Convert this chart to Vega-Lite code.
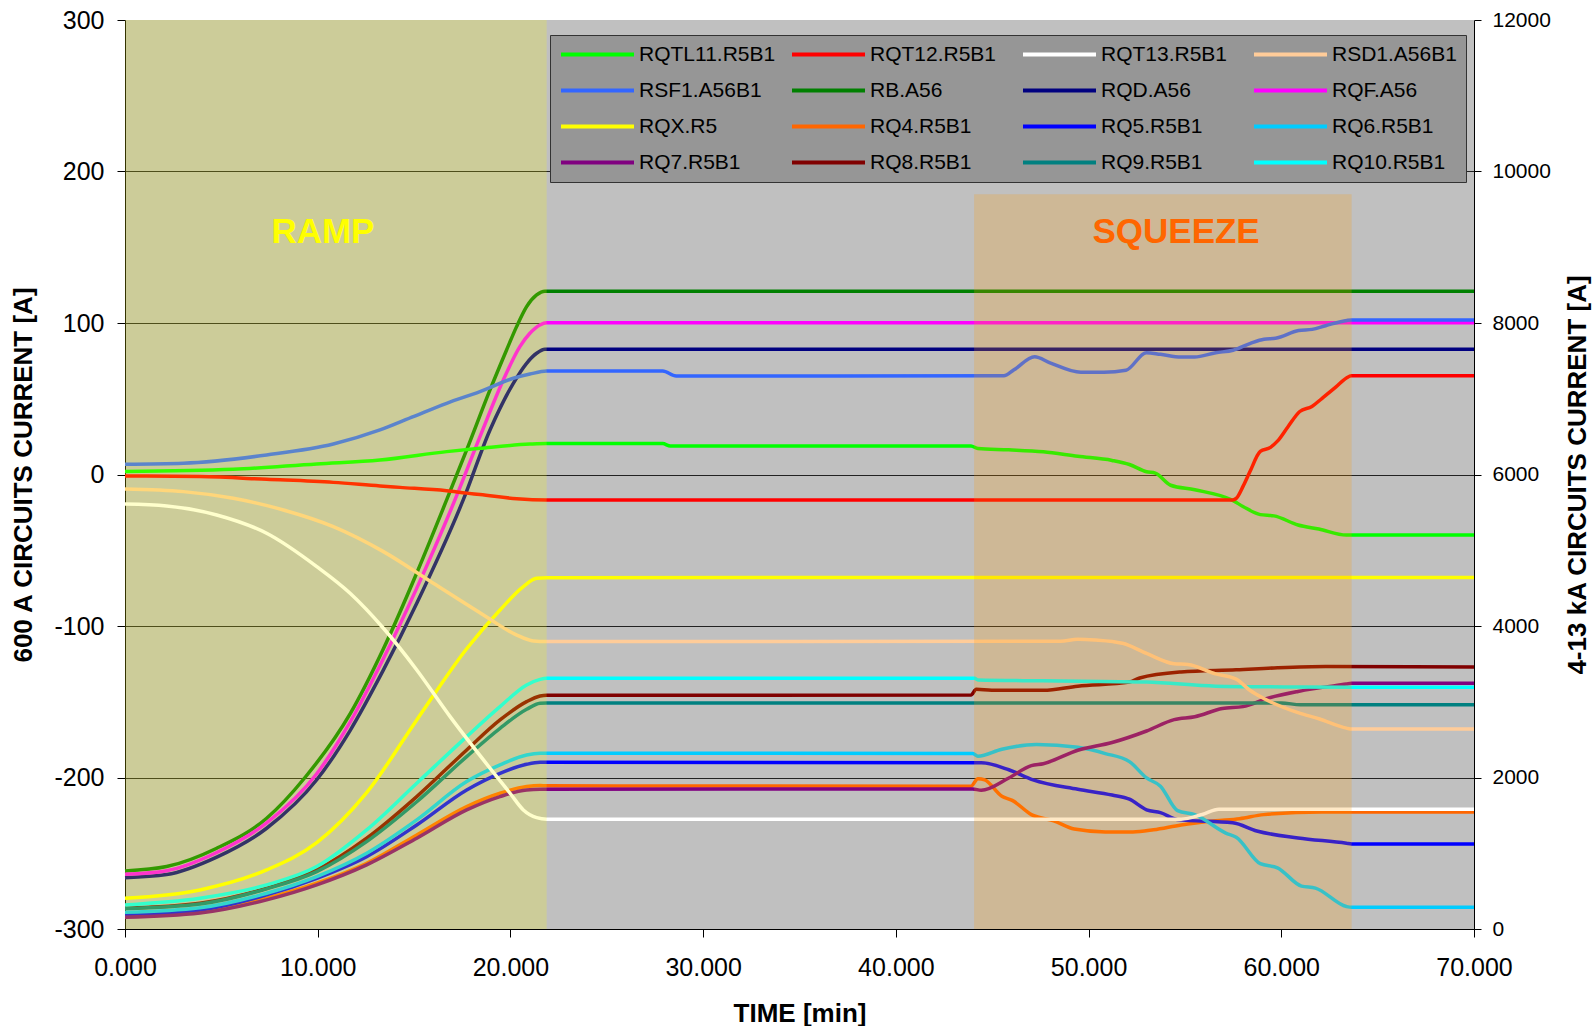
{
  "$schema": "https://vega.github.io/schema/vega-lite/v6.json",
  "width": 1349,
  "height": 909,
  "autosize": {"type": "none"},
  "padding": {"left": 125, "top": 20, "right": 121, "bottom": 97},
  "background": "white",
  "config": {
    "font": "Liberation Sans",
    "view": {"fill": "#C0C0C0", "stroke": null},
    "axis": {"labelFont": "Liberation Sans", "titleFont": "Liberation Sans", "labelColor": "#000", "titleColor": "#000", "tickColor": "#000", "domainColor": "#000", "domainWidth": 1, "tickWidth": 1}
  },
  "datasets": {
    "ka": [
      {"circuit":"RB.A56","time":0,"current":766},{"circuit":"RB.A56","time":2.16,"current":824},{"circuit":"RB.A56","time":4.76,"current":1066},{"circuit":"RB.A56","time":7.35,"current":1462},{"circuit":"RB.A56","time":9.34,"current":2000},{"circuit":"RB.A56","time":11.68,"current":2840},{"circuit":"RB.A56","time":13.41,"current":3700},{"circuit":"RB.A56","time":15.14,"current":4700},{"circuit":"RB.A56","time":16.69,"current":5664},{"circuit":"RB.A56","time":17.73,"current":6324},{"circuit":"RB.A56","time":18.94,"current":7116},{"circuit":"RB.A56","time":19.8,"current":7644},{"circuit":"RB.A56","time":20.32,"current":7952},{"circuit":"RB.A56","time":20.84,"current":8216},{"circuit":"RB.A56","time":21.36,"current":8370},{"circuit":"RB.A56","time":21.79,"current":8420},{"circuit":"RB.A56","time":70,"current":8420},
      {"circuit":"RQD.A56","time":0,"current":678},{"circuit":"RQD.A56","time":2.16,"current":720},{"circuit":"RQD.A56","time":4.76,"current":950},{"circuit":"RQD.A56","time":7.35,"current":1330},{"circuit":"RQD.A56","time":9.95,"current":1970},{"circuit":"RQD.A56","time":11.68,"current":2620},{"circuit":"RQD.A56","time":13.41,"current":3420},{"circuit":"RQD.A56","time":15.14,"current":4300},{"circuit":"RQD.A56","time":17.55,"current":5664},{"circuit":"RQD.A56","time":18.94,"current":6588},{"circuit":"RQD.A56","time":20.15,"current":7204},{"circuit":"RQD.A56","time":20.84,"current":7468},{"circuit":"RQD.A56","time":21.36,"current":7600},{"circuit":"RQD.A56","time":21.79,"current":7652},{"circuit":"RQD.A56","time":70,"current":7652},
      {"circuit":"RQF.A56","time":0,"current":722},{"circuit":"RQF.A56","time":2.16,"current":770},{"circuit":"RQF.A56","time":4.76,"current":1010},{"circuit":"RQF.A56","time":7.35,"current":1400},{"circuit":"RQF.A56","time":9.95,"current":2050},{"circuit":"RQF.A56","time":11.68,"current":2730},{"circuit":"RQF.A56","time":13.41,"current":3570},{"circuit":"RQF.A56","time":15.14,"current":4500},{"circuit":"RQF.A56","time":17.12,"current":5664},{"circuit":"RQF.A56","time":18.42,"current":6500},{"circuit":"RQF.A56","time":19.63,"current":7248},{"circuit":"RQF.A56","time":20.49,"current":7688},{"circuit":"RQF.A56","time":21.01,"current":7864},{"circuit":"RQF.A56","time":21.53,"current":7974},{"circuit":"RQF.A56","time":21.88,"current":8004},{"circuit":"RQF.A56","time":70,"current":8004},
      {"circuit":"RQX.R5","time":0,"current":406},{"circuit":"RQX.R5","time":3.89,"current":516},{"circuit":"RQX.R5","time":7.35,"current":780},{"circuit":"RQX.R5","time":9.95,"current":1140},{"circuit":"RQX.R5","time":12.54,"current":1800},{"circuit":"RQX.R5","time":15.14,"current":2760},{"circuit":"RQX.R5","time":17.73,"current":3700},{"circuit":"RQX.R5","time":19.46,"current":4212},{"circuit":"RQX.R5","time":20.67,"current":4520},{"circuit":"RQX.R5","time":21.36,"current":4630},{"circuit":"RQX.R5","time":21.88,"current":4638},{"circuit":"RQX.R5","time":70,"current":4640},
      {"circuit":"RQ4.R5B1","time":0,"current":164},{"circuit":"RQ4.R5B1","time":3.89,"current":224},{"circuit":"RQ4.R5B1","time":7.35,"current":406},{"circuit":"RQ4.R5B1","time":9.95,"current":604},{"circuit":"RQ4.R5B1","time":12.54,"current":868},{"circuit":"RQ4.R5B1","time":15.14,"current":1242},{"circuit":"RQ4.R5B1","time":17.73,"current":1616},{"circuit":"RQ4.R5B1","time":19.46,"current":1792},{"circuit":"RQ4.R5B1","time":20.84,"current":1880},{"circuit":"RQ4.R5B1","time":21.54,"current":1894},{"circuit":"RQ4.R5B1","time":21.88,"current":1890},{"circuit":"RQ4.R5B1","time":43.9,"current":1886},{"circuit":"RQ4.R5B1","time":44.26,"current":1984},{"circuit":"RQ4.R5B1","time":44.61,"current":1968},{"circuit":"RQ4.R5B1","time":45.5,"current":1752},{"circuit":"RQ4.R5B1","time":46.04,"current":1698},{"circuit":"RQ4.R5B1","time":47.03,"current":1510},{"circuit":"RQ4.R5B1","time":48.19,"current":1428},{"circuit":"RQ4.R5B1","time":49.26,"current":1320},{"circuit":"RQ4.R5B1","time":50.87,"current":1282},{"circuit":"RQ4.R5B1","time":52.3,"current":1282},{"circuit":"RQ4.R5B1","time":53.37,"current":1310},{"circuit":"RQ4.R5B1","time":54.8,"current":1374},{"circuit":"RQ4.R5B1","time":56.59,"current":1428},{"circuit":"RQ4.R5B1","time":57.84,"current":1456},{"circuit":"RQ4.R5B1","time":59.09,"current":1510},{"circuit":"RQ4.R5B1","time":62.12,"current":1546},{"circuit":"RQ4.R5B1","time":70,"current":1546},
      {"circuit":"RQ5.R5B1","time":0,"current":186},{"circuit":"RQ5.R5B1","time":3.89,"current":250},{"circuit":"RQ5.R5B1","time":7.35,"current":450},{"circuit":"RQ5.R5B1","time":9.95,"current":670},{"circuit":"RQ5.R5B1","time":12.54,"current":956},{"circuit":"RQ5.R5B1","time":15.14,"current":1374},{"circuit":"RQ5.R5B1","time":17.73,"current":1836},{"circuit":"RQ5.R5B1","time":19.46,"current":2056},{"circuit":"RQ5.R5B1","time":20.84,"current":2174},{"circuit":"RQ5.R5B1","time":21.54,"current":2200},{"circuit":"RQ5.R5B1","time":44.43,"current":2194},{"circuit":"RQ5.R5B1","time":45.86,"current":2102},{"circuit":"RQ5.R5B1","time":47.12,"current":1968},{"circuit":"RQ5.R5B1","time":49.44,"current":1844},{"circuit":"RQ5.R5B1","time":51.22,"current":1768},{"circuit":"RQ5.R5B1","time":52.12,"current":1714},{"circuit":"RQ5.R5B1","time":53.01,"current":1574},{"circuit":"RQ5.R5B1","time":53.73,"current":1536},{"circuit":"RQ5.R5B1","time":54.62,"current":1444},{"circuit":"RQ5.R5B1","time":57.48,"current":1402},{"circuit":"RQ5.R5B1","time":58.73,"current":1294},{"circuit":"RQ5.R5B1","time":60.87,"current":1202},{"circuit":"RQ5.R5B1","time":63.38,"current":1132},{"circuit":"RQ5.R5B1","time":63.65,"current":1122},{"circuit":"RQ5.R5B1","time":70,"current":1122},
      {"circuit":"RQ6.R5B1","time":0,"current":220},{"circuit":"RQ6.R5B1","time":3.89,"current":280},{"circuit":"RQ6.R5B1","time":7.35,"current":472},{"circuit":"RQ6.R5B1","time":9.95,"current":692},{"circuit":"RQ6.R5B1","time":12.54,"current":1000},{"circuit":"RQ6.R5B1","time":15.14,"current":1440},{"circuit":"RQ6.R5B1","time":17.73,"current":1946},{"circuit":"RQ6.R5B1","time":19.46,"current":2166},{"circuit":"RQ6.R5B1","time":20.84,"current":2298},{"circuit":"RQ6.R5B1","time":21.54,"current":2320},{"circuit":"RQ6.R5B1","time":43.99,"current":2316},{"circuit":"RQ6.R5B1","time":44.26,"current":2280},{"circuit":"RQ6.R5B1","time":45.5,"current":2372},{"circuit":"RQ6.R5B1","time":47.29,"current":2436},{"circuit":"RQ6.R5B1","time":49.44,"current":2398},{"circuit":"RQ6.R5B1","time":50.87,"current":2316},{"circuit":"RQ6.R5B1","time":52.12,"current":2210},{"circuit":"RQ6.R5B1","time":53.01,"current":1994},{"circuit":"RQ6.R5B1","time":53.73,"current":1886},{"circuit":"RQ6.R5B1","time":54.62,"current":1562},{"circuit":"RQ6.R5B1","time":55.51,"current":1510},{"circuit":"RQ6.R5B1","time":57.12,"current":1266},{"circuit":"RQ6.R5B1","time":57.66,"current":1212},{"circuit":"RQ6.R5B1","time":58.91,"current":862},{"circuit":"RQ6.R5B1","time":59.8,"current":808},{"circuit":"RQ6.R5B1","time":61.05,"current":566},{"circuit":"RQ6.R5B1","time":61.77,"current":540},{"circuit":"RQ6.R5B1","time":63.38,"current":296},{"circuit":"RQ6.R5B1","time":63.65,"current":286},{"circuit":"RQ6.R5B1","time":70,"current":286},
      {"circuit":"RQ7.R5B1","time":0,"current":154},{"circuit":"RQ7.R5B1","time":3.89,"current":210},{"circuit":"RQ7.R5B1","time":7.35,"current":384},{"circuit":"RQ7.R5B1","time":9.95,"current":582},{"circuit":"RQ7.R5B1","time":12.54,"current":846},{"circuit":"RQ7.R5B1","time":15.14,"current":1198},{"circuit":"RQ7.R5B1","time":17.73,"current":1572},{"circuit":"RQ7.R5B1","time":19.46,"current":1748},{"circuit":"RQ7.R5B1","time":20.84,"current":1836},{"circuit":"RQ7.R5B1","time":21.54,"current":1844},{"circuit":"RQ7.R5B1","time":43.99,"current":1848},{"circuit":"RQ7.R5B1","time":44.43,"current":1832},{"circuit":"RQ7.R5B1","time":45.86,"current":1994},{"circuit":"RQ7.R5B1","time":47.03,"current":2156},{"circuit":"RQ7.R5B1","time":47.65,"current":2182},{"circuit":"RQ7.R5B1","time":49.44,"current":2360},{"circuit":"RQ7.R5B1","time":51.22,"current":2462},{"circuit":"RQ7.R5B1","time":53.01,"current":2614},{"circuit":"RQ7.R5B1","time":54.44,"current":2764},{"circuit":"RQ7.R5B1","time":55.51,"current":2802},{"circuit":"RQ7.R5B1","time":56.94,"current":2910},{"circuit":"RQ7.R5B1","time":58.01,"current":2936},{"circuit":"RQ7.R5B1","time":59.27,"current":3044},{"circuit":"RQ7.R5B1","time":60.87,"current":3136},{"circuit":"RQ7.R5B1","time":63.38,"current":3234},{"circuit":"RQ7.R5B1","time":63.65,"current":3244},{"circuit":"RQ7.R5B1","time":70,"current":3244},
      {"circuit":"RQ8.R5B1","time":0,"current":274},{"circuit":"RQ8.R5B1","time":3.89,"current":340},{"circuit":"RQ8.R5B1","time":7.35,"current":538},{"circuit":"RQ8.R5B1","time":9.95,"current":780},{"circuit":"RQ8.R5B1","time":12.54,"current":1198},{"circuit":"RQ8.R5B1","time":15.14,"current":1748},{"circuit":"RQ8.R5B1","time":17.73,"current":2364},{"circuit":"RQ8.R5B1","time":19.46,"current":2760},{"circuit":"RQ8.R5B1","time":20.84,"current":3002},{"circuit":"RQ8.R5B1","time":21.54,"current":3076},{"circuit":"RQ8.R5B1","time":21.88,"current":3086},{"circuit":"RQ8.R5B1","time":43.9,"current":3088},{"circuit":"RQ8.R5B1","time":44.17,"current":3164},{"circuit":"RQ8.R5B1","time":44.97,"current":3152},{"circuit":"RQ8.R5B1","time":47.65,"current":3152},{"circuit":"RQ8.R5B1","time":49.44,"current":3206},{"circuit":"RQ8.R5B1","time":52.12,"current":3260},{"circuit":"RQ8.R5B1","time":52.65,"current":3314},{"circuit":"RQ8.R5B1","time":54.8,"current":3394},{"circuit":"RQ8.R5B1","time":57.66,"current":3422},{"circuit":"RQ8.R5B1","time":59.8,"current":3448},{"circuit":"RQ8.R5B1","time":62.3,"current":3464},{"circuit":"RQ8.R5B1","time":70,"current":3460},
      {"circuit":"RQ9.R5B1","time":0,"current":270},{"circuit":"RQ9.R5B1","time":3.89,"current":330},{"circuit":"RQ9.R5B1","time":7.35,"current":530},{"circuit":"RQ9.R5B1","time":9.95,"current":758},{"circuit":"RQ9.R5B1","time":12.54,"current":1154},{"circuit":"RQ9.R5B1","time":15.14,"current":1680},{"circuit":"RQ9.R5B1","time":17.73,"current":2276},{"circuit":"RQ9.R5B1","time":19.46,"current":2650},{"circuit":"RQ9.R5B1","time":20.84,"current":2900},{"circuit":"RQ9.R5B1","time":21.54,"current":2980},{"circuit":"RQ9.R5B1","time":21.88,"current":2984},{"circuit":"RQ9.R5B1","time":60,"current":2984},{"circuit":"RQ9.R5B1","time":61,"current":2960},{"circuit":"RQ9.R5B1","time":70,"current":2960},
      {"circuit":"RQ10.R5B1","time":0,"current":318},{"circuit":"RQ10.R5B1","time":3.89,"current":406},{"circuit":"RQ10.R5B1","time":7.35,"current":582},{"circuit":"RQ10.R5B1","time":9.95,"current":824},{"circuit":"RQ10.R5B1","time":12.54,"current":1308},{"circuit":"RQ10.R5B1","time":15.14,"current":1924},{"circuit":"RQ10.R5B1","time":17.73,"current":2540},{"circuit":"RQ10.R5B1","time":19.46,"current":2936},{"circuit":"RQ10.R5B1","time":20.84,"current":3222},{"circuit":"RQ10.R5B1","time":21.54,"current":3296},{"circuit":"RQ10.R5B1","time":21.88,"current":3310},{"circuit":"RQ10.R5B1","time":44.08,"current":3310},{"circuit":"RQ10.R5B1","time":44.26,"current":3288},{"circuit":"RQ10.R5B1","time":47.65,"current":3276},{"circuit":"RQ10.R5B1","time":53.01,"current":3260},{"circuit":"RQ10.R5B1","time":56.59,"current":3206},{"circuit":"RQ10.R5B1","time":60.16,"current":3196},{"circuit":"RQ10.R5B1","time":63.65,"current":3190},{"circuit":"RQ10.R5B1","time":70,"current":3190}
    ],
    "a600": [
      {"circuit":"RQTL11.R5B1","time":0,"current":1.9},{"circuit":"RQTL11.R5B1","time":5.62,"current":3.4},{"circuit":"RQTL11.R5B1","time":9.95,"current":7.0},{"circuit":"RQTL11.R5B1","time":13.23,"current":9.5},{"circuit":"RQTL11.R5B1","time":16.69,"current":15.1},{"circuit":"RQTL11.R5B1","time":18.42,"current":17.3},{"circuit":"RQTL11.R5B1","time":21.01,"current":20.1},{"circuit":"RQTL11.R5B1","time":21.88,"current":20.5},{"circuit":"RQTL11.R5B1","time":27.9,"current":20.4},{"circuit":"RQTL11.R5B1","time":28.3,"current":18.8},{"circuit":"RQTL11.R5B1","time":43.9,"current":18.8},{"circuit":"RQTL11.R5B1","time":44.26,"current":17.1},{"circuit":"RQTL11.R5B1","time":45.86,"current":16.3},{"circuit":"RQTL11.R5B1","time":47.65,"current":15.0},{"circuit":"RQTL11.R5B1","time":49.44,"current":12.0},{"circuit":"RQTL11.R5B1","time":51.22,"current":9.3},{"circuit":"RQTL11.R5B1","time":52.12,"current":6.6},{"circuit":"RQTL11.R5B1","time":53.01,"current":1.8},{"circuit":"RQTL11.R5B1","time":53.46,"current":0.9},{"circuit":"RQTL11.R5B1","time":54.26,"current":-7.1},{"circuit":"RQTL11.R5B1","time":55.51,"current":-10.1},{"circuit":"RQTL11.R5B1","time":57.48,"current":-17.1},{"circuit":"RQTL11.R5B1","time":58.01,"current":-21.1},{"circuit":"RQTL11.R5B1","time":58.91,"current":-26.5},{"circuit":"RQTL11.R5B1","time":59.62,"current":-27.3},{"circuit":"RQTL11.R5B1","time":60.87,"current":-33.3},{"circuit":"RQTL11.R5B1","time":61.95,"current":-36.0},{"circuit":"RQTL11.R5B1","time":63.38,"current":-40.0},{"circuit":"RQTL11.R5B1","time":70,"current":-40.0},
      {"circuit":"RQT12.R5B1","time":0,"current":-1.0},{"circuit":"RQT12.R5B1","time":3.89,"current":-1.4},{"circuit":"RQT12.R5B1","time":7.35,"current":-3.2},{"circuit":"RQT12.R5B1","time":10.81,"current":-5.2},{"circuit":"RQT12.R5B1","time":13.23,"current":-7.6},{"circuit":"RQT12.R5B1","time":14.27,"current":-8.5},{"circuit":"RQT12.R5B1","time":16.69,"current":-10.7},{"circuit":"RQT12.R5B1","time":17.73,"current":-12.3},{"circuit":"RQT12.R5B1","time":18.42,"current":-13.2},{"circuit":"RQT12.R5B1","time":20.33,"current":-16.0},{"circuit":"RQT12.R5B1","time":21.88,"current":-16.8},{"circuit":"RQT12.R5B1","time":57.48,"current":-16.8},{"circuit":"RQT12.R5B1","time":57.66,"current":-15.8},{"circuit":"RQT12.R5B1","time":58.02,"current":-7.7},{"circuit":"RQT12.R5B1","time":58.37,"current":1.8},{"circuit":"RQT12.R5B1","time":58.91,"current":15.2},{"circuit":"RQT12.R5B1","time":59.44,"current":17.9},{"circuit":"RQT12.R5B1","time":59.8,"current":22.0},{"circuit":"RQT12.R5B1","time":60.34,"current":31.4},{"circuit":"RQT12.R5B1","time":60.96,"current":41.6},{"circuit":"RQT12.R5B1","time":61.59,"current":44.9},{"circuit":"RQT12.R5B1","time":62.12,"current":50.3},{"circuit":"RQT12.R5B1","time":62.84,"current":57.8},{"circuit":"RQT12.R5B1","time":63.38,"current":63.7},{"circuit":"RQT12.R5B1","time":63.64,"current":65.1},{"circuit":"RQT12.R5B1","time":70,"current":65.1},
      {"circuit":"RQT13.R5B1","time":0,"current":-19.5},{"circuit":"RQT13.R5B1","time":2.16,"current":-20.8},{"circuit":"RQT13.R5B1","time":4.76,"current":-26.7},{"circuit":"RQT13.R5B1","time":7.35,"current":-38.8},{"circuit":"RQT13.R5B1","time":9.95,"current":-60.8},{"circuit":"RQT13.R5B1","time":11.68,"current":-78.4},{"circuit":"RQT13.R5B1","time":13.41,"current":-101.5},{"circuit":"RQT13.R5B1","time":15.14,"current":-129.0},{"circuit":"RQT13.R5B1","time":16.87,"current":-159.8},{"circuit":"RQT13.R5B1","time":18.6,"current":-188.4},{"circuit":"RQT13.R5B1","time":19.98,"current":-210.4},{"circuit":"RQT13.R5B1","time":20.67,"current":-221.4},{"circuit":"RQT13.R5B1","time":21.36,"current":-226.5},{"circuit":"RQT13.R5B1","time":21.88,"current":-227.5},{"circuit":"RQT13.R5B1","time":54.8,"current":-227.5},{"circuit":"RQT13.R5B1","time":55.9,"current":-224.4},{"circuit":"RQT13.R5B1","time":56.76,"current":-221.0},{"circuit":"RQT13.R5B1","time":70,"current":-221.0},
      {"circuit":"RSD1.A56B1","time":0,"current":-9.6},{"circuit":"RSD1.A56B1","time":3.03,"current":-11.3},{"circuit":"RSD1.A56B1","time":5.62,"current":-15.7},{"circuit":"RSD1.A56B1","time":8.22,"current":-23.4},{"circuit":"RSD1.A56B1","time":10.81,"current":-34.4},{"circuit":"RSD1.A56B1","time":13.41,"current":-50.9},{"circuit":"RSD1.A56B1","time":16.0,"current":-71.8},{"circuit":"RSD1.A56B1","time":18.6,"current":-92.7},{"circuit":"RSD1.A56B1","time":20.33,"current":-106.0},{"circuit":"RSD1.A56B1","time":21.19,"current":-109.9},{"circuit":"RSD1.A56B1","time":21.88,"current":-110.3},{"circuit":"RSD1.A56B1","time":48.54,"current":-110.0},{"circuit":"RSD1.A56B1","time":49.44,"current":-108.7},{"circuit":"RSD1.A56B1","time":50.33,"current":-109.2},{"circuit":"RSD1.A56B1","time":51.76,"current":-111.4},{"circuit":"RSD1.A56B1","time":53.01,"current":-118.1},{"circuit":"RSD1.A56B1","time":54.44,"current":-124.9},{"circuit":"RSD1.A56B1","time":55.16,"current":-125.4},{"circuit":"RSD1.A56B1","time":56.59,"current":-131.6},{"circuit":"RSD1.A56B1","time":57.66,"current":-135.1},{"circuit":"RSD1.A56B1","time":58.37,"current":-142.4},{"circuit":"RSD1.A56B1","time":59.09,"current":-147.8},{"circuit":"RSD1.A56B1","time":60.87,"current":-157.2},{"circuit":"RSD1.A56B1","time":61.95,"current":-161.2},{"circuit":"RSD1.A56B1","time":63.38,"current":-167.4},{"circuit":"RSD1.A56B1","time":63.65,"current":-168.0},{"circuit":"RSD1.A56B1","time":70,"current":-168.0},
      {"circuit":"RSF1.A56B1","time":0,"current":6.7},{"circuit":"RSF1.A56B1","time":3.03,"current":7.4},{"circuit":"RSF1.A56B1","time":7.35,"current":12.9},{"circuit":"RSF1.A56B1","time":10.81,"current":20.1},{"circuit":"RSF1.A56B1","time":13.23,"current":29.4},{"circuit":"RSF1.A56B1","time":14.96,"current":38.2},{"circuit":"RSF1.A56B1","time":16.69,"current":47.0},{"circuit":"RSF1.A56B1","time":18.42,"current":54.7},{"circuit":"RSF1.A56B1","time":20.15,"current":63.5},{"circuit":"RSF1.A56B1","time":21.01,"current":66.3},{"circuit":"RSF1.A56B1","time":21.88,"current":68.3},{"circuit":"RSF1.A56B1","time":27.9,"current":68.3},{"circuit":"RSF1.A56B1","time":28.6,"current":65.0},{"circuit":"RSF1.A56B1","time":45.6,"current":65.1},{"circuit":"RSF1.A56B1","time":46.13,"current":69.1},{"circuit":"RSF1.A56B1","time":47.2,"current":77.7},{"circuit":"RSF1.A56B1","time":48.0,"current":73.7},{"circuit":"RSF1.A56B1","time":49.6,"current":67.5},{"circuit":"RSF1.A56B1","time":50.8,"current":67.5},{"circuit":"RSF1.A56B1","time":51.94,"current":68.8},{"circuit":"RSF1.A56B1","time":53.0,"current":80.4},{"circuit":"RSF1.A56B1","time":53.73,"current":79.3},{"circuit":"RSF1.A56B1","time":54.8,"current":77.5},{"circuit":"RSF1.A56B1","time":55.5,"current":77.5},{"circuit":"RSF1.A56B1","time":56.6,"current":80.4},{"circuit":"RSF1.A56B1","time":57.5,"current":82.0},{"circuit":"RSF1.A56B1","time":58.4,"current":86.6},{"circuit":"RSF1.A56B1","time":59.1,"current":89.3},{"circuit":"RSF1.A56B1","time":59.7,"current":89.9},{"circuit":"RSF1.A56B1","time":60.9,"current":95.0},{"circuit":"RSF1.A56B1","time":61.6,"current":95.8},{"circuit":"RSF1.A56B1","time":62.3,"current":98.2},{"circuit":"RSF1.A56B1","time":63.4,"current":101.7},{"circuit":"RSF1.A56B1","time":63.65,"current":102.0},{"circuit":"RSF1.A56B1","time":70,"current":102.0}
    ],
    "regions": [
      {"region":"RAMP","time":0,"time_end":21.88,"current":-300,"current_end":300},
      {"region":"SQUEEZE","time":44.06,"time_end":63.65,"current":-300,"current_end":185}
    ],
    "labels": [
      {"label":"RAMP","time":10.27,"current":160},
      {"label":"SQUEEZE","time":54.54,"current":160}
    ]
  },
  "encoding": {
    "x": {
      "field": "time", "type": "quantitative",
      "scale": {"domain": [0, 70], "nice": false, "zero": false},
      "axis": {
        "title": "TIME [min]", "titleFontSize": 26, "titleFontWeight": "bold", "titleY": 92, "titleBaseline": "alphabetic",
        "values": [0, 10, 20, 30, 40, 50, 60, 70], "format": ".3f",
        "labelFontSize": 25, "labelBaseline": "alphabetic", "labelPadding": 38, "labelFlush": false, "labelOverlap": false,
        "tickSize": 8, "grid": false
      }
    }
  },
  "resolve": {"scale": {"y": "independent"}},
  "layer": [
    {
      "data": {"name": "ka"},
      "mark": {"type": "line", "strokeWidth": 3.5, "interpolate": "monotone"},
      "encoding": {
        "y": {
          "field": "current", "type": "quantitative",
          "scale": {"domain": [0, 12000], "nice": false, "zero": false},
          "axis": {
            "orient": "right", "title": "4-13 kA CIRCUITS CURRENT [A]", "titleFontSize": 26, "titleFontWeight": "bold",
            "titleAngle": 270, "titleX": 103, "titleBaseline": "middle",
            "values": [0, 2000, 4000, 6000, 8000, 10000, 12000], "format": "d",
            "labelFontSize": 21, "labelPadding": 11, "tickSize": 7, "grid": false
          }
        },
        "color": {
          "field": "circuit", "type": "nominal",
          "scale": {
            "domain": ["RQTL11.R5B1","RQT12.R5B1","RQT13.R5B1","RSD1.A56B1","RSF1.A56B1","RB.A56","RQD.A56","RQF.A56","RQX.R5","RQ4.R5B1","RQ5.R5B1","RQ6.R5B1","RQ7.R5B1","RQ8.R5B1","RQ9.R5B1","RQ10.R5B1"],
            "range": ["#00FF00","#FF0000","#FFFFFF","#FFCC99","#3366FF","#008000","#000080","#FF00FF","#FFFF00","#FF6600","#0000FF","#00CCFF","#800080","#800000","#008080","#00FFFF"]
          },
          "legend": {
            "title": null, "orient": "none", "direction": "horizontal", "legendX": 425, "legendY": 15, "columns": 4, "gridAlign": "all",
            "columnPadding": 14, "rowPadding": 14, "padding": 9, "clipHeight": 21,
            "fillColor": "#969696", "strokeColor": "#333333",
            "symbolType": "stroke", "symbolSize": 5329, "symbolStrokeWidth": 4, "symbolOffset": 0,
            "labelFont": "Liberation Sans", "labelFontSize": 21, "labelColor": "#000", "labelOffset": 3, "labelLimit": 300
          }
        }
      }
    },
    {
      "encoding": {
        "y": {
          "field": "current", "type": "quantitative",
          "scale": {"domain": [-300, 300], "nice": false, "zero": false},
          "axis": {
            "orient": "left", "title": "600 A CIRCUITS CURRENT [A]", "titleFontSize": 26, "titleFontWeight": "bold",
            "titleAngle": 270, "titleX": -102, "titleBaseline": "middle",
            "values": [-300, -200, -100, 0, 100, 200, 300], "labelExpr": "'' + datum.value",
            "labelFontSize": 25, "labelPadding": 13, "tickSize": 8,
            "grid": true, "gridColor": "#222222", "gridWidth": 1,
            "gridOpacity": {"condition": {"test": "datum.value == 300", "value": 0}, "value": 1}
          }
        }
      },
      "layer": [
        {
          "data": {"name": "a600"},
          "mark": {"type": "line", "strokeWidth": 3.5, "interpolate": "monotone"},
          "encoding": {
            "color": {
              "field": "circuit", "type": "nominal",
              "scale": {
                "domain": ["RQTL11.R5B1","RQT12.R5B1","RQT13.R5B1","RSD1.A56B1","RSF1.A56B1","RB.A56","RQD.A56","RQF.A56","RQX.R5","RQ4.R5B1","RQ5.R5B1","RQ6.R5B1","RQ7.R5B1","RQ8.R5B1","RQ9.R5B1","RQ10.R5B1"],
                "range": ["#00FF00","#FF0000","#FFFFFF","#FFCC99","#3366FF","#008000","#000080","#FF00FF","#FFFF00","#FF6600","#0000FF","#00CCFF","#800080","#800000","#008080","#00FFFF"]
              },
              "legend": {
                "title": null, "orient": "none", "direction": "horizontal", "legendX": 425, "legendY": 15, "columns": 4, "gridAlign": "all",
                "columnPadding": 14, "rowPadding": 14, "padding": 9, "clipHeight": 21,
                "fillColor": "#969696", "strokeColor": "#333333",
                "symbolType": "stroke", "symbolSize": 5329, "symbolStrokeWidth": 4, "symbolOffset": 0,
                "labelFont": "Liberation Sans", "labelFontSize": 21, "labelColor": "#000", "labelOffset": 3, "labelLimit": 300
              }
            }
          }
        },
        {
          "data": {"name": "regions"},
          "mark": {"type": "rect"},
          "encoding": {
            "x2": {"field": "time_end"},
            "y2": {"field": "current_end"},
            "color": {"condition": {"test": "datum.region == 'RAMP'", "value": "#FFFF00"}, "value": "#FF9900"},
            "opacity": {"condition": {"test": "datum.region == 'RAMP'", "value": 0.2}, "value": 0.22}
          }
        },
        {
          "data": {"name": "labels"},
          "mark": {"type": "text", "font": "Liberation Sans", "fontWeight": "bold", "fontSize": 35, "baseline": "middle", "align": "center"},
          "encoding": {
            "text": {"field": "label"},
            "color": {"condition": {"test": "datum.label == 'RAMP'", "value": "#FFFF00"}, "value": "#FF6600"}
          }
        }
      ]
    }
  ]
}
